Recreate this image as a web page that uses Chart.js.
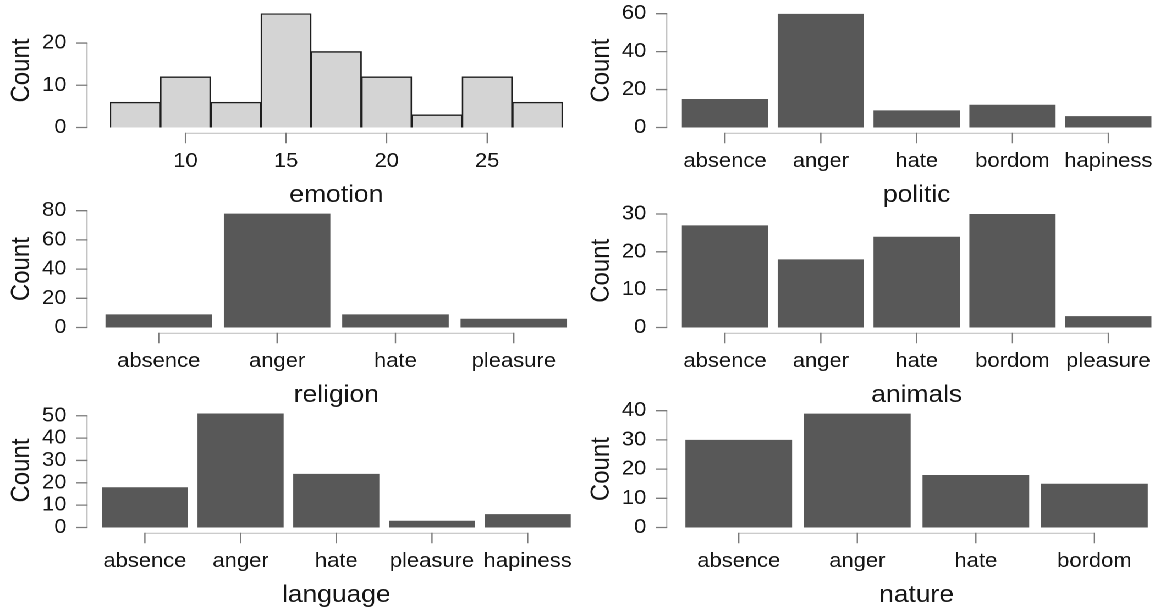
<!DOCTYPE html>
<html><head><meta charset="utf-8">
<script src="https://cdn.jsdelivr.net/npm/chart.js@4.4.1/dist/chart.umd.min.js"></script>
<style>
html,body{margin:0;padding:0;background:#fff;overflow:hidden;}
#outer{position:relative;width:1158px;height:610px;overflow:hidden;background:#fff;}
#wrap{position:absolute;left:0;top:0;width:1053px;height:610px;transform:scaleX(1.1);transform-origin:0 0;}
canvas{position:absolute;}
</style></head><body><div id="outer"><div id="wrap">
<canvas id="c1" width="528" height="215" style="left:0px;top:0px"></canvas>
<canvas id="c2" width="526" height="215" style="left:527.3px;top:0px"></canvas>
<canvas id="c3" width="528" height="215" style="left:0px;top:200px"></canvas>
<canvas id="c4" width="526" height="215" style="left:527.3px;top:200px"></canvas>
<canvas id="c5" width="528" height="210" style="left:0px;top:400px"></canvas>
<canvas id="c6" width="526" height="210" style="left:527.3px;top:400px"></canvas>
</div></div>
<script>
// ---- data ----
const emotionBins = [7.5, 10, 12.5, 15, 17.5, 20, 22.5, 25, 27.5];
const emotionCounts = [6, 12, 6, 27, 18, 12, 3, 12, 6];
const emotionXTicks = [10, 15, 20, 25];
const emotionYTicks = [0, 10, 20];

const politicCats = ['absence', 'anger', 'hate', 'bordom', 'hapiness'];
const politicCounts = [15, 60, 9, 12, 6];
const politicYTicks = [0, 20, 40, 60];

const religionCats = ['absence', 'anger', 'hate', 'pleasure'];
const religionCounts = [9, 78, 9, 6];
const religionYTicks = [0, 20, 40, 60, 80];

const animalsCats = ['absence', 'anger', 'hate', 'bordom', 'pleasure'];
const animalsCounts = [27, 18, 24, 30, 3];
const animalsYTicks = [0, 10, 20, 30];

const languageCats = ['absence', 'anger', 'hate', 'pleasure', 'hapiness'];
const languageCounts = [18, 51, 24, 3, 6];
const languageYTicks = [0, 10, 20, 30, 40, 50];

const natureCats = ['absence', 'anger', 'hate', 'bordom'];
const natureCounts = [30, 39, 18, 15];
const natureYTicks = [0, 10, 20, 30, 40];

// ---- layout / style ----
const FONT = "'Liberation Sans', Arial, Helvetica, sans-serif";
const TXT = '#151515';
const BAR = '#585858';
const HIST_FILL = '#d4d4d4';
const AXIS_LINE = '#c4c4c4';
const AXIS_TICK = '#7a7a7a';
const ROW_H = 200;
const PLOT_BOTTOM = 127.5;
const Y_LINE_X = 79.1;
const Y_LABEL_RIGHT = 60.5;

const panels = [
  {id:'c1', title:'emotion', hist:true, x:emotionBins, y:emotionCounts, xTicks:emotionXTicks, yTicks:emotionYTicks, yMax:27, xMin:6.25, xMax:28.75, l:100, r:511.5, t:13.5},
  {id:'c2', title:'politic', x:politicCats, y:politicCounts, yTicks:politicYTicks, yMax:60, l:88.5, r:524.1, t:13.7},
  {id:'c3', title:'religion', x:religionCats, y:religionCounts, yTicks:religionYTicks, yMax:80, l:90.5, r:520.9, t:10.7},
  {id:'c4', title:'animals', x:animalsCats, y:animalsCounts, yTicks:animalsYTicks, yMax:30, l:88.5, r:524.1, t:14},
  {id:'c5', title:'language', x:languageCats, y:languageCounts, yTicks:languageYTicks, yMax:51, l:88.2, r:523.2, t:13.5},
  {id:'c6', title:'nature', x:natureCats, y:natureCounts, yTicks:natureYTicks, yMax:40, l:90.7, r:521.8, t:10.7}
];

const rAxes = {
  id: 'rAxes',
  afterDatasetsDraw(chart) {
    const {ctx, chartArea: ca, scales: {x, y}} = chart;
    ctx.save();
    ctx.lineCap = 'butt';
    // y axis
    const yp = y.ticks.map(t => y.getPixelForValue(t.value));
    const yTop = Math.min(...yp), yBot = Math.max(...yp);
    ctx.lineWidth = 1.2;
    ctx.strokeStyle = AXIS_LINE;
    ctx.beginPath(); ctx.moveTo(Y_LINE_X, yBot); ctx.lineTo(Y_LINE_X, yTop); ctx.stroke();
    ctx.strokeStyle = AXIS_TICK;
    ctx.lineWidth = 1.3;
    ctx.beginPath();
    yp.forEach(p => { ctx.moveTo(Y_LINE_X - 10, p); ctx.lineTo(Y_LINE_X + 0.5, p); });
    ctx.stroke();
    // x axis
    const xp = x.ticks.map((t, i) => x.getPixelForTick(i));
    const ay = ca.bottom + 5.8;
    ctx.lineWidth = 1.2;
    ctx.strokeStyle = AXIS_LINE;
    ctx.beginPath(); ctx.moveTo(Math.min(...xp), ay); ctx.lineTo(Math.max(...xp), ay); ctx.stroke();
    ctx.strokeStyle = AXIS_TICK;
    ctx.beginPath();
    xp.forEach(p => { ctx.moveTo(p, ay - 0.6); ctx.lineTo(p, ay + 10); });
    ctx.stroke();
    ctx.restore();
  }
};

panels.forEach(p => {
  const canvas = document.getElementById(p.id);
  const W = canvas.width, H = canvas.height;
  const data = p.hist
    ? {datasets: [{data: p.x.map((v, i) => ({x: v, y: p.y[i]})), backgroundColor: HIST_FILL, borderColor: '#1e1e1e', borderWidth: 1.4, barPercentage: 1, categoryPercentage: 1}]}
    : {labels: p.x, datasets: [{data: p.y, backgroundColor: BAR, borderWidth: 0, barPercentage: 0.9, categoryPercentage: 1}]};
  const xScale = p.hist
    ? {type: 'linear', min: p.xMin, max: p.xMax, offset: false,
       afterBuildTicks: s => { s.ticks = p.xTicks.map(v => ({value: v})); }}
    : {type: 'category', offset: true};
  Object.assign(xScale, {
    grid: {display: false, drawTicks: false}, border: {display: false},
    ticks: {color: TXT, padding: 24, autoSkip: false, maxRotation: 0, font: {family: FONT, size: 20, lineHeight: 1}},
    title: {display: true, text: p.title, color: TXT, padding: 0, font: {family: FONT, size: 24, lineHeight: 0.38}},
    afterFit: s => { s.height = ROW_H - PLOT_BOTTOM; s.paddingLeft = 0; s.paddingRight = 0; }
  });
  new Chart(canvas, {
    type: 'bar',
    data,
    options: {
      responsive: false, animation: false, events: [], devicePixelRatio: 2,
      layout: {padding: {left: 0, top: p.t, right: W - p.r, bottom: H - ROW_H}},
      plugins: {legend: {display: false}, tooltip: {enabled: false}},
      scales: {
        x: xScale,
        y: {
          type: 'linear', min: 0, max: p.yMax,
          afterBuildTicks: s => { s.ticks = p.yTicks.map(v => ({value: v})); },
          grid: {display: false, drawTicks: false}, border: {display: false},
          ticks: {color: TXT, autoSkip: false, padding: p.l - Y_LABEL_RIGHT, font: {family: FONT, size: 20, lineHeight: 1}},
          title: {display: true, text: 'Count', color: TXT, padding: {top: 5.5, bottom: 0}, font: {family: FONT, size: 24, lineHeight: 1.2}},
          afterFit: s => { s.width = p.l; s.paddingTop = 0; s.paddingBottom = 0; }
        }
      }
    },
    plugins: [rAxes]
  });
});
</script>
</body></html>
